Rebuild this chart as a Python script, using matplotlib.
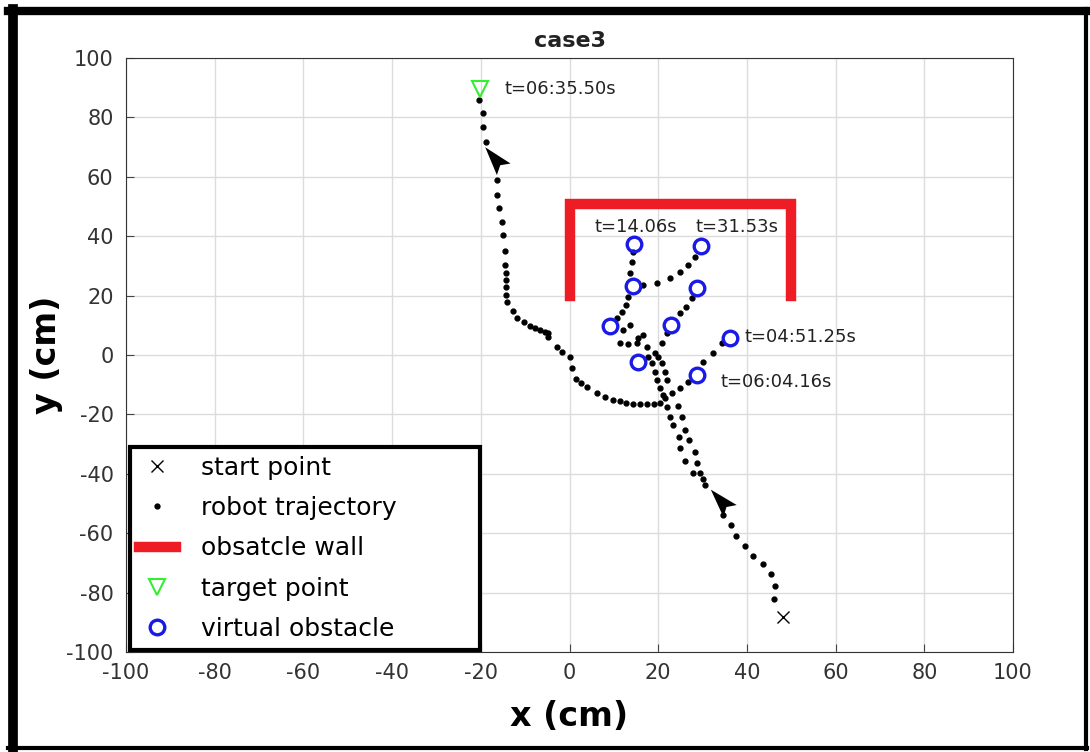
import matplotlib.pyplot as plt, numpy as np
from matplotlib.lines import Line2D
from matplotlib.markers import MarkerStyle

plt.rcParams['axes.unicode_minus'] = False

# data
start = (48.1, -88.2)
target = (-20.2, 89.5)
wall_x = [0, 0, 50, 50]
wall_y = [20, 51, 51, 20]

obs_x = [14.5, 29.6, 14.3, 28.7, 9.1, 22.9, 36.2, 15.4, 28.7]
obs_y = [37.4, 36.7, 23.2, 22.6, 9.8, 10.1, 5.7, -2.4, -6.7]

traj_x = [46.1, 46.3, 45.4, 43.6, 41.4, 39.6, 37.5, 36.4, 34.6,
          30.6, 30.1, 29.4, 27.8, 28.7, 26.0, 28.3, 24.9, 27.0, 24.7,
          26.0, 23.3, 25.4, 22.7, 24.5, 22.0, 20.4,
          19.0, 17.5, 15.9, 14.3, 12.8, 11.4, 9.8, 8.0, 6.2, 3.9, 2.6, 1.5,
          0.6, 0.0, -1.7, -2.8, -4.8, -4.8, -5.6, -6.6, -7.8, -8.9, -10.3,
          -11.8, -12.7, -14.1, -14.3, -14.3, -14.3, -14.4, -14.5, -14.5, -15.0,
          -15.2, -15.9, -16.3, -16.3, -18.8, -19.5, -19.5, -20.4,
          13.6, 14.1, 14.3,
          16.6, 19.7, 22.7, 24.9, 26.7, 28.3,
          13.2, 12.7, 11.8, 10.7,
          24.9, 26.3, 27.6,
          22.0, 20.9, 19.3,
          13.6, 12.1, 16.6, 15.4, 11.4, 13.2, 15.2, 17.5, 17.7, 20.0,
          18.6, 20.9, 19.3, 21.5, 19.7, 22.0, 20.4, 21.1,
          34.4, 32.4, 30.1,
          26.7, 24.9, 23.1, 21.5]
traj_y = [-82.2, -77.8, -73.7, -70.4, -67.7, -64.3, -60.9, -57.2, -53.9,
          -43.8, -41.7, -39.7, -39.7, -36.4, -35.7, -32.7, -31.3, -28.6, -27.6,
          -25.2, -23.6, -20.9, -20.9, -17.2, -17.5, -16.2,
          -16.4, -16.5, -16.5, -16.5, -16.0, -15.5, -15.2, -14.0, -12.8, -10.8,
          -9.5, -8.1, -4.4, -0.7, 1.0, 2.7, 6.1, 7.4, 7.9, 8.4, 9.1, 9.8, 11.1,
          12.5, 14.8, 17.8, 20.3, 22.9, 25.2, 27.6, 30.3, 35.0, 40.4,
          44.8, 49.5, 53.9, 58.9, 71.7, 76.8, 81.5, 85.9,
          27.6, 31.3, 34.7,
          23.6, 24.2, 25.9, 27.9, 30.3, 33.0,
          19.5, 16.8, 14.5, 12.5,
          14.1, 16.2, 19.2,
          7.4, 4.0, 0.7,
          10.1, 8.4, 6.7, 5.7, 4.0, 3.7, 4.0, 2.7, -0.7, -0.7,
          -2.7, -2.7, -5.7, -5.7, -8.4, -8.4, -11.1, -13.5,
          4.0, 0.7, -2.4,
          -9.1, -11.1, -12.8, -14.5]

labels = ["t=06:35.50s", "t=14.06s", "t=31.53s", "t=04:51.25s", "t=06:04.16s"]
label_x = [-14.7, 5.7, 28.3, 39.5, 34.0]
label_y = [89.5, 43.0, 43.0, 6.0, -9.0]

# heading arrows on the path: centre and direction (deg, ccw from up)
arrow_x = [-16.8, 34.2]
arrow_y = [66.0, -49.2]
arrow_dir = [40, 42]

fig = plt.figure(figsize=(10.9, 7.52), dpi=100)
ax = fig.add_axes([0.1156, 0.133, 0.8138, 0.7899])

ax.plot(*start, 'x', color='k', ms=9, mew=1, label='start point')
ax.plot(traj_x, traj_y, '.', color='k', ms=7, ls='none', label='robot trajectory')
ax.plot(wall_x, wall_y, '-', color='#ee1c24', lw=7.5, solid_joinstyle='miter',
        label='obsatcle wall')
ax.plot(*target, 'v', mfc='none', mec='#33ee33', ms=12, mew=1.5, label='target point')
ax.plot(obs_x, obs_y, 'o', mfc='none', mec='#1a1ae6', ms=10.5, mew=2.4, ls='none',
        label='virtual obstacle')

# cursor-like arrow head
head = [(0, 0.75), (-0.42, -0.6), (0, -0.35), (0.42, -0.6), (0, 0.75)]
for x, y, d in zip(arrow_x, arrow_y, arrow_dir):
    ax.plot(x, y, marker=MarkerStyle(head).rotated(deg=d), color='k', ms=23, mew=0)

for s, x, y in zip(labels, label_x, label_y):
    ax.text(x, y, s, fontsize=13, va='center', ha='left', color='#222222')

ax.set_xlim(-100, 100)
ax.set_ylim(-100, 100)
ax.set_xticks(np.arange(-100, 101, 20))
ax.set_yticks(np.arange(-100, 101, 20))
ax.tick_params(labelsize=15, direction='in', length=6, color='#444444',
               labelcolor='#333333')
ax.tick_params(axis='x', pad=8)
ax.tick_params(axis='y', pad=9)
ax.grid(True, color='#dcdcdc', lw=1)
ax.set_axisbelow(True)
for sp in ax.spines.values():
    sp.set_color('#333333')

ax.set_title('case3', fontsize=16, fontweight='bold', pad=8, color='#222222')
ax.set_xlabel('x (cm)', fontsize=24, fontweight='bold', labelpad=12)
ax.set_ylabel('y (cm)', fontsize=24, fontweight='bold', labelpad=2)

leg = ax.legend(loc='lower left', bbox_to_anchor=(0.0045, 0.004, 0.395, 0.3),
                mode='expand', fontsize=18, frameon=True, fancybox=False,
                framealpha=1, handlelength=1.5, handletextpad=1.0, borderpad=0.35,
                labelspacing=0.65, borderaxespad=0)
leg.get_frame().set_edgecolor('k')
leg.get_frame().set_linewidth(3)

# outer black frame, heavier on the top and left like the original
fig.add_artist(Line2D([0.012, 0.012], [0.004, 0.988], transform=fig.transFigure, color='k', lw=7))
fig.add_artist(Line2D([0.007, 0.997], [0.985, 0.985], transform=fig.transFigure, color='k', lw=6))
fig.add_artist(Line2D([0.996, 0.996], [0.004, 0.988], transform=fig.transFigure, color='k', lw=3))
fig.add_artist(Line2D([0.007, 0.997], [0.005, 0.005], transform=fig.transFigure, color='k', lw=3))

fig.savefig('out.png', dpi=100)
